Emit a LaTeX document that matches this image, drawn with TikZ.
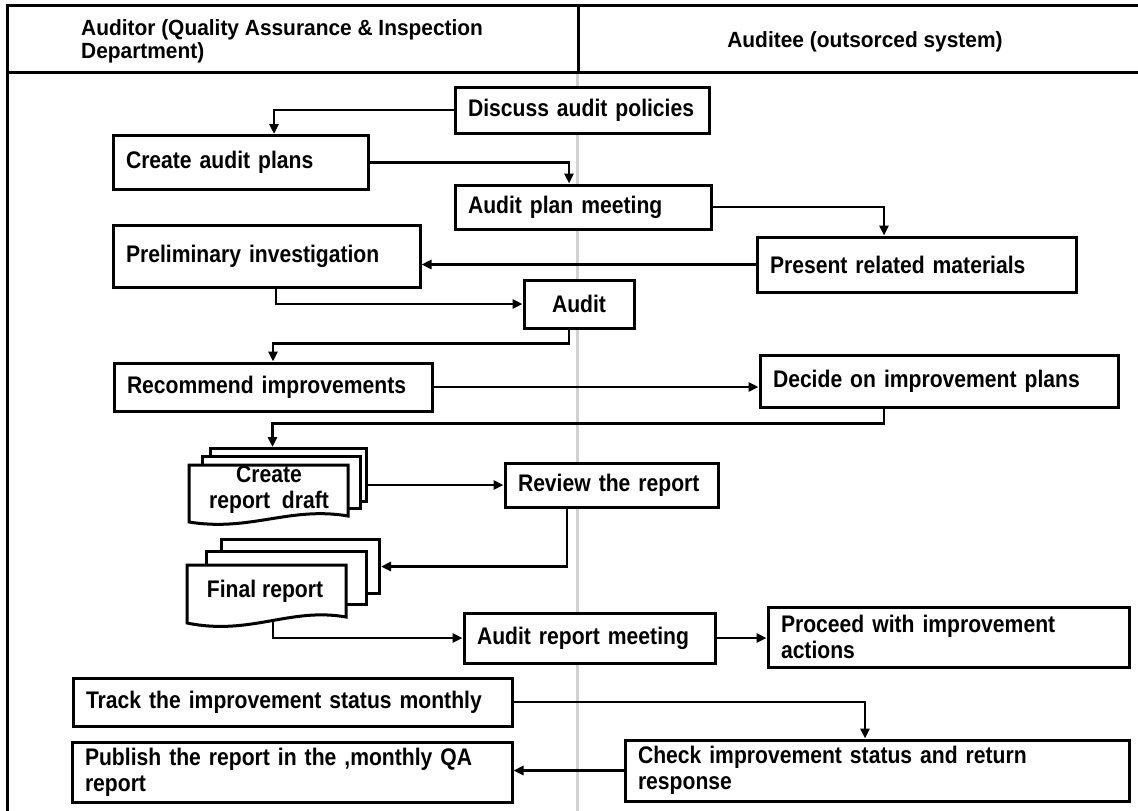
\documentclass[tikz,border=0pt]{standalone}
\usepackage{fontspec}
\setmainfont{Liberation Sans}
\newfontfamily\narrowsans{Liberation Sans}[FakeStretch=0.88]
\newfontfamily\headsans{Liberation Sans}[FakeStretch=0.95]
\usetikzlibrary{arrows.meta}
\newcommand{\boxfont}{\narrowsans\fontsize{24}{26}\selectfont\bfseries}
\newcommand{\headfont}{\headsans\fontsize{22}{23}\selectfont\bfseries}

\begin{document}
\begin{tikzpicture}[x=1pt,y=-1pt,
    proc/.style={draw=black, line width=3pt, fill=white, inner xsep=13pt, inner ysep=0pt, align=left, font=\boxfont},
    page/.style={draw=black, line width=3pt, fill=white, anchor=north west, inner sep=0pt},
    arr/.style={black, line width=2.5pt, -{Triangle[length=10pt,width=9pt]}}]
    \useasboundingbox (0,0) rectangle (1138,811);
    \fill[white] (0,0) rectangle (1138,811);

    \draw[gray!35, line width=3pt](577,72) -- (577,811);
    \draw[black, line width=3pt](7,811) -- (7,5) -- (1138,5);
    \draw[black, line width=3pt](7,72) -- (1138,72);
    \draw[black, line width=3pt](578,5) -- (578,72);
    \node[anchor=west, align=left, inner sep=0pt, font=\headfont] (hdraudit) at (81,41.5) {Auditor (Quality Assurance \& Inspection\\Department)};
    \node[inner sep=0pt, font=\headfont] (hdrauditee) at (865,42) {Auditee (outsorced system)};

    \node[proc, minimum width=254pt, minimum height=46pt, text width=228pt] (disc) at (582,110) {Discuss audit policies};
    \node[proc, minimum width=255pt, minimum height=54pt, text width=229pt] (plans) at (240.5,162.5) {Create audit plans};
    \node[proc, minimum width=256pt, minimum height=44pt, text width=230pt] (planmtg) at (583,207) {Audit plan meeting};
    \node[proc, minimum width=319pt, minimum height=55pt, text width=293pt] (present) at (916.5,264.5) {Present related materials};
    \node[proc, minimum width=307pt, minimum height=62pt, text width=281pt] (prelim) at (266.5,256) {Preliminary investigation};
    \node[proc, minimum width=110pt, minimum height=48pt, align=center] (audit) at (579,304) {Audit};
    \node[proc, minimum width=318pt, minimum height=48pt, text width=292pt] (recomm) at (273,387) {Recommend improvements};
    \node[proc, minimum width=358pt, minimum height=52pt, text width=332pt] (decide) at (939,381) {Decide on improvement plans};
    \node[proc, minimum width=213pt, minimum height=44pt, text width=187pt] (review) at (611.5,485) {Review the report};
    \node[proc, minimum width=251pt, minimum height=50pt, text width=225pt] (reportmtg) at (589.5,638) {Audit report meeting};
    \node[proc, minimum width=361pt, minimum height=60pt, text width=335pt] (proceed) at (948.5,637) {Proceed with improvement\\actions};
    \node[proc, minimum width=439pt, minimum height=48pt, text width=413pt] (track) at (292.5,702) {Track the improvement status monthly};
    \node[proc, minimum width=504pt, minimum height=61pt, text width=478pt] (check) at (877,770.5) {Check improvement status and return\\response};
    \node[proc, minimum width=440pt, minimum height=60pt, text width=414pt] (publish) at (292,772) {Publish the report in the ,monthly QA\\report};

    \node[page, minimum width=156pt, minimum height=53pt] (draftb2) at (209,447) {};
    \node[page, minimum width=158pt, minimum height=52pt] (draftb1) at (201,455) {};
    \draw[black, line width=3pt, fill=white](189,465) -- (348,465) -- (348,516) .. controls (290,506) and (250,532) .. (189,522) -- cycle;
    \node[inner sep=0pt, align=center, font=\boxfont] (draft) at (269,490) {Create\\report~ draft};

    \node[page, minimum width=158pt, minimum height=54pt] (finalb2) at (220,538) {};
    \node[page, minimum width=160pt, minimum height=53pt] (finalb1) at (205,550) {};
    \draw[black, line width=3pt, fill=white](187,565) -- (346,565) -- (346,617) .. controls (290,607) and (250,636) .. (187,623) -- cycle;
    \node[inner sep=0pt, font=\boxfont] (final) at (265,591) {Final report};
    \coordinate (finalbot) at (273,622);

    \draw[arr] (disc.west) -| ([xshift=33.5pt]plans.north);
    \draw[arr] (plans.east) -| ([xshift=-14pt]planmtg.north);
    \draw[arr] (planmtg.east) -| ([xshift=-32.5pt]present.north);
    \draw[arr] (present.west) -- (present.west -| prelim.east);
    \draw[arr] ([xshift=9.5pt]prelim.south) |- (audit.west);
    \draw[arr] ([xshift=-10pt]audit.south) -- ++(0,14) -| (recomm.north);
    \draw[arr] (recomm.east) -- (recomm.east -| decide.west);
    \draw[arr] ([xshift=-55pt]decide.south) -- ++(0,15) -| ([xshift=-16pt]draftb2.north);
    \draw[arr] (draftb2.east |- review.west) -- (review.west);
    \draw[arr] ([xshift=-44.5pt]review.south) |- (finalb2.east);
    \draw[arr] (finalbot) |- (reportmtg.west);
    \draw[arr] (reportmtg.east) -- (reportmtg.east -| proceed.west);
    \draw[arr] (track.east) -| ([xshift=-12pt]check.north);
    \draw[arr] (check.west) -- (check.west -| publish.east);
\end{tikzpicture}
\end{document}
